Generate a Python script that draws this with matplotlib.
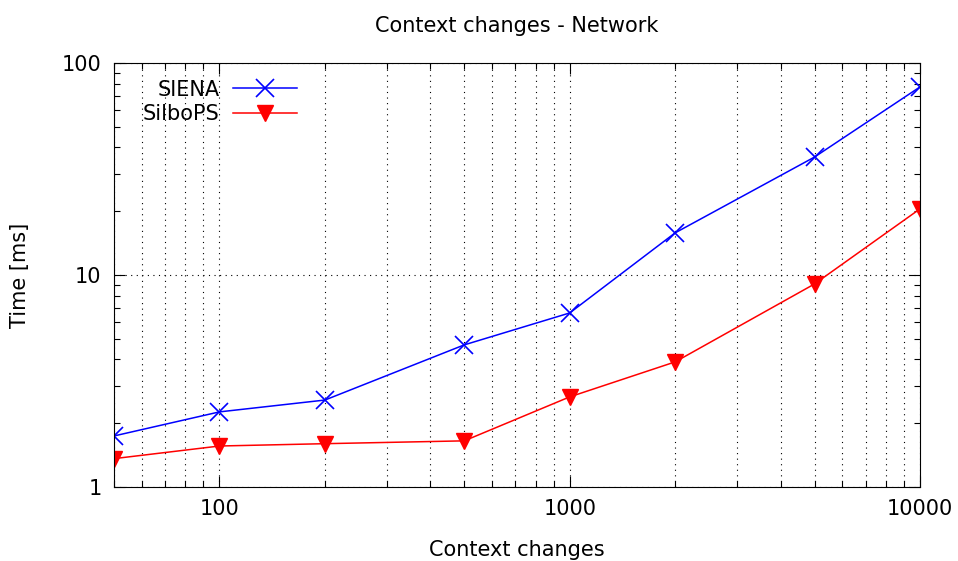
import numpy as np
import matplotlib.pyplot as plt
from matplotlib.ticker import LogLocator, FixedLocator, NullFormatter

# number of context changes and measured times [ms]
changes = [50, 100, 200, 500, 1000, 2000, 5000, 10000]
siena = [1.74, 2.26, 2.57, 4.68, 6.62, 15.8, 36.0, 77.1]
silbops = [1.36, 1.56, 1.60, 1.65, 2.66, 3.89, 9.07, 20.5]

plt.rcParams['font.family'] = 'DejaVu Sans'
plt.rcParams['font.size'] = 15

fig = plt.figure(figsize=(9.58, 5.61), dpi=100)
ax = fig.add_axes([0.119, 0.132, 0.8413, 0.7557])

ax.plot(changes, siena, color='blue', lw=1.1, marker='x', ms=13, mew=1.2, label='SIENA')
ax.plot(changes, silbops, color='red', lw=1.1, marker='v', ms=12, label='SilboPS')

ax.set_xscale('log')
ax.set_yscale('log')
ax.set_xlim(50, 10000)
ax.set_ylim(1, 100)

ax.xaxis.set_major_locator(FixedLocator([100, 1000, 10000]))
ax.xaxis.set_minor_locator(LogLocator(base=10, subs=np.arange(2, 10)))
ax.xaxis.set_minor_formatter(NullFormatter())
ax.set_xticklabels(['100', '1000', '10000'])
ax.yaxis.set_major_locator(FixedLocator([1, 10, 100]))
ax.yaxis.set_minor_locator(LogLocator(base=10, subs=np.arange(2, 10)))
ax.yaxis.set_minor_formatter(NullFormatter())
ax.set_yticklabels(['1', '10', '100'])

ax.tick_params(which='both', direction='in', top=True, right=True, width=0.8)
ax.tick_params(which='major', length=8, pad=9)
ax.tick_params(which='minor', length=4)

ax.grid(True, which='major', axis='both', color='black', ls=(0, (1, 4)), lw=0.8)
ax.grid(True, which='minor', axis='x', color='black', ls=(0, (1, 4)), lw=0.8)
ax.set_axisbelow(True)

ax.set_title('Context changes - Network', fontsize=15, pad=22)
ax.set_xlabel('Context changes', labelpad=15)
ax.set_ylabel('Time [ms]', labelpad=23)

ax.legend(loc='upper left', frameon=False, markerfirst=False, handlelength=3.1,
          handletextpad=0.65, borderaxespad=0.2, labelspacing=0.2,
          bbox_to_anchor=(0.02, 0.99))

fig.savefig('out.png', dpi=100)
